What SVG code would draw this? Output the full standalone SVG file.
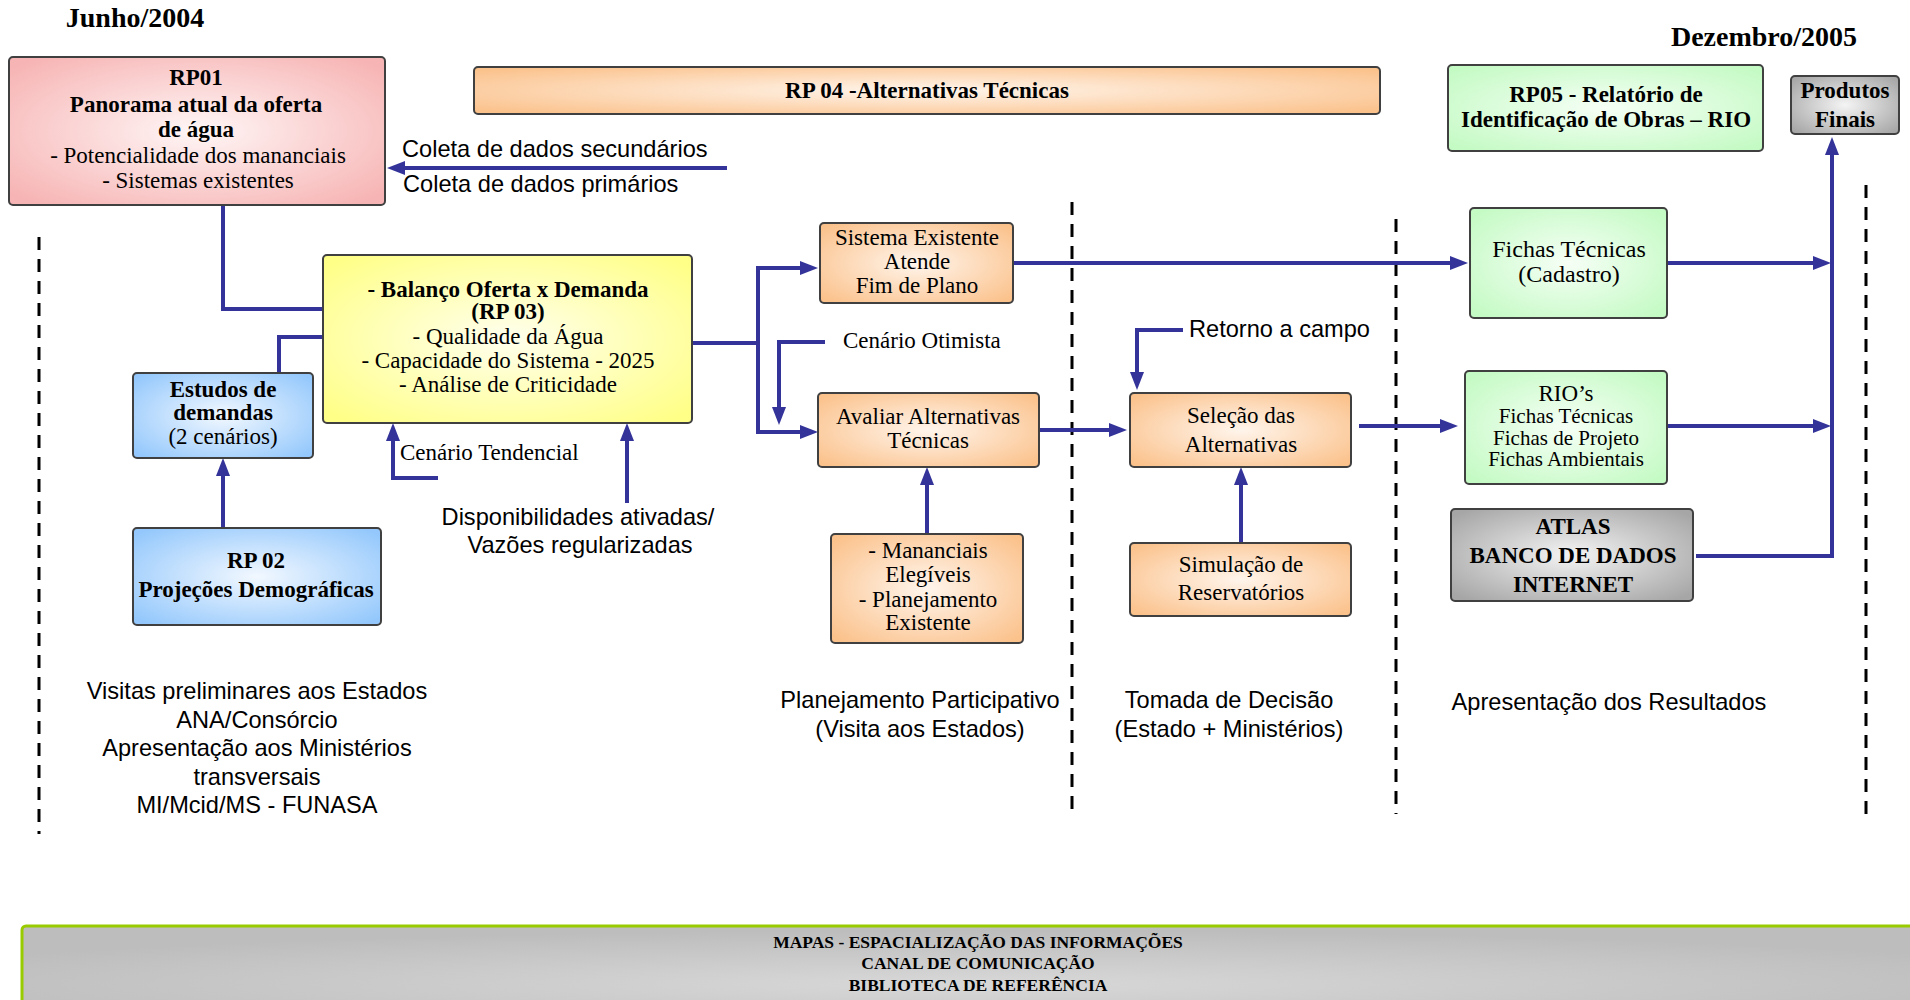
<svg xmlns="http://www.w3.org/2000/svg" width="1910" height="1000" viewBox="0 0 1910 1000">
<defs>
<style>
.box{stroke:#404040;stroke-width:2}
.conn{fill:none;stroke:#333399;stroke-width:4}
.arr{marker-end:url(#ah)}
.dash{stroke:#000;stroke-width:3;stroke-dasharray:13 9}
.s{font-family:"Liberation Serif","Times New Roman",serif;font-size:23px;fill:#000;text-anchor:middle}
.b{font-weight:bold}
.sans{font-family:"Liberation Sans",Arial,sans-serif;font-size:23.6px;fill:#000}
.mid{text-anchor:middle}
</style>
<radialGradient id="gPink" cx="50%" cy="50%" r="65%"><stop offset="0" stop-color="#fff6f6"/><stop offset="1" stop-color="#f7b4b4"/></radialGradient>
<radialGradient id="gOrange" cx="50%" cy="50%" r="65%"><stop offset="0" stop-color="#fff5ec"/><stop offset="1" stop-color="#fbc28c"/></radialGradient>
<radialGradient id="gYellow" cx="50%" cy="50%" r="65%"><stop offset="0" stop-color="#ffffee"/><stop offset="1" stop-color="#ffff88"/></radialGradient>
<radialGradient id="gBlue" cx="50%" cy="50%" r="65%"><stop offset="0" stop-color="#f2f8ff"/><stop offset="1" stop-color="#94c8fc"/></radialGradient>
<radialGradient id="gGreen" cx="50%" cy="50%" r="65%"><stop offset="0" stop-color="#f6fff6"/><stop offset="1" stop-color="#c4fac4"/></radialGradient>
<radialGradient id="gGray" cx="50%" cy="50%" r="65%"><stop offset="0" stop-color="#f4f4f4"/><stop offset="1" stop-color="#a6a6a6"/></radialGradient>
<radialGradient id="gBar" cx="50%" cy="65%" r="60%"><stop offset="0" stop-color="#d8d8d8"/><stop offset="1" stop-color="#bdbdbd"/></radialGradient>
<marker id="ah" markerUnits="userSpaceOnUse" markerWidth="18" markerHeight="14" refX="8" refY="7" orient="auto"><path d="M0,0 L18,7 L0,14 z" fill="#333399"/></marker>
</defs>

<g id="dates">
<text class="s b" x="135" y="27" style="font-size:28px">Junho/2004</text>
<text class="s b" x="1764" y="46" style="font-size:28px">Dezembro/2005</text>
</g>

<g id="phase-lines">
<line class="dash" x1="39" y1="237" x2="39" y2="834"/>
<line class="dash" x1="1072" y1="202" x2="1072" y2="814"/>
<line class="dash" x1="1396" y1="219" x2="1396" y2="814"/>
<line class="dash" x1="1866" y1="185" x2="1866" y2="814"/>
</g>

<g id="connectors">
<path class="conn arr" d="M727,168 H397"/>
<path class="conn" d="M223,205 V309 H323"/>
<path class="conn" d="M279,373 V337 H323"/>
<path class="conn arr" d="M223,527 V468"/>
<path class="conn arr" d="M438,478 H393 V433"/>
<path class="conn arr" d="M627,503 V433"/>
<path class="conn" d="M692,343 H758"/>
<path class="conn arr" d="M758,343 V268 H808"/>
<path class="conn arr" d="M758,343 V432 H808"/>
<path class="conn arr" d="M825,342 H779 V415"/>
<path class="conn arr" d="M1013,263 H1458"/>
<path class="conn arr" d="M1039,430 H1117"/>
<path class="conn arr" d="M927,534 V477"/>
<path class="conn arr" d="M1183,330 H1137 V380"/>
<path class="conn arr" d="M1241,543 V477"/>
<path class="conn arr" d="M1359,426 H1448"/>
<path class="conn arr" d="M1668,263 H1821"/>
<path class="conn arr" d="M1668,426 H1821"/>
<path class="conn arr" d="M1696,556 H1832 V147"/>
</g>

<g id="rp01">
<rect class="box" x="9" y="57" width="376" height="148" rx="4" fill="url(#gPink)"/>
<text class="s b" x="196" y="85">RP01</text>
<text class="s b" x="196" y="112">Panorama atual da oferta</text>
<text class="s b" x="196" y="137">de água</text>
<text class="s" x="198" y="163">- Potencialidade dos mananciais</text>
<text class="s" x="198" y="188">- Sistemas existentes</text>
</g>

<g id="rp04">
<rect class="box" x="474" y="67" width="906" height="47" rx="4" fill="url(#gOrange)"/>
<text class="s b" x="927" y="98">RP 04 -Alternativas Técnicas</text>
</g>

<g id="rp05">
<rect class="box" x="1448" y="65" width="315" height="86" rx="4" fill="url(#gGreen)"/>
<text class="s b" x="1606" y="102">RP05 - Relatório de</text>
<text class="s b" x="1606" y="127">Identificação de Obras – RIO</text>
</g>

<g id="produtos">
<rect class="box" x="1791" y="76" width="108" height="58" rx="4" fill="url(#gGray)"/>
<text class="s b" x="1845" y="98">Produtos</text>
<text class="s b" x="1845" y="127">Finais</text>
</g>

<g id="rp03">
<rect class="box" x="323" y="255" width="369" height="168" rx="4" fill="url(#gYellow)"/>
<text class="s b" x="508" y="297">- Balanço Oferta x Demanda</text>
<text class="s b" x="508" y="319">(RP 03)</text>
<text class="s" x="508" y="344">- Qualidade da Água</text>
<text class="s" x="508" y="368">- Capacidade do Sistema - 2025</text>
<text class="s" x="508" y="392">- Análise de Criticidade</text>
</g>

<g id="estudos">
<rect class="box" x="133" y="373" width="180" height="85" rx="4" fill="url(#gBlue)"/>
<text class="s b" x="223" y="397">Estudos de</text>
<text class="s b" x="223" y="420">demandas</text>
<text class="s" x="223" y="444">(2 cenários)</text>
</g>

<g id="rp02">
<rect class="box" x="133" y="528" width="248" height="97" rx="4" fill="url(#gBlue)"/>
<text class="s b" x="256" y="568">RP 02</text>
<text class="s b" x="256" y="597">Projeções Demográficas</text>
</g>

<g id="sistema">
<rect class="box" x="820" y="223" width="193" height="80" rx="4" fill="url(#gOrange)"/>
<text class="s" x="917" y="245">Sistema Existente</text>
<text class="s" x="917" y="269">Atende</text>
<text class="s" x="917" y="293">Fim de Plano</text>
</g>

<g id="avaliar">
<rect class="box" x="818" y="393" width="221" height="74" rx="4" fill="url(#gOrange)"/>
<text class="s" x="928" y="424">Avaliar Alternativas</text>
<text class="s" x="928" y="448">Técnicas</text>
</g>

<g id="mananciais">
<rect class="box" x="831" y="534" width="192" height="109" rx="4" fill="url(#gOrange)"/>
<text class="s" x="928" y="558">- Mananciais</text>
<text class="s" x="928" y="582">Elegíveis</text>
<text class="s" x="928" y="607">- Planejamento</text>
<text class="s" x="928" y="630">Existente</text>
</g>

<g id="selecao">
<rect class="box" x="1130" y="393" width="221" height="74" rx="4" fill="url(#gOrange)"/>
<text class="s" x="1241" y="423">Seleção das</text>
<text class="s" x="1241" y="452">Alternativas</text>
</g>

<g id="simulacao">
<rect class="box" x="1130" y="543" width="221" height="73" rx="4" fill="url(#gOrange)"/>
<text class="s" x="1241" y="572">Simulação de</text>
<text class="s" x="1241" y="600">Reservatórios</text>
</g>

<g id="fichas">
<rect class="box" x="1470" y="208" width="197" height="110" rx="4" fill="url(#gGreen)"/>
<text class="s" x="1569" y="257" style="font-size:24px">Fichas Técnicas</text>
<text class="s" x="1569" y="282" style="font-size:24px">(Cadastro)</text>
</g>

<g id="rios">
<rect class="box" x="1465" y="371" width="202" height="113" rx="4" fill="url(#gGreen)"/>
<text class="s" x="1566" y="401">RIO’s</text>
<text class="s" x="1566" y="423" style="font-size:21px">Fichas Técnicas</text>
<text class="s" x="1566" y="445" style="font-size:21px">Fichas de Projeto</text>
<text class="s" x="1566" y="466" style="font-size:21px">Fichas Ambientais</text>
</g>

<g id="atlas">
<rect class="box" x="1451" y="509" width="242" height="92" rx="4" fill="url(#gGray)"/>
<text class="s b" x="1573" y="534">ATLAS</text>
<text class="s b" x="1573" y="563">BANCO DE DADOS</text>
<text class="s b" x="1573" y="592">INTERNET</text>
</g>

<g id="labels">
<text class="sans" x="402" y="157">Coleta de dados secundários</text>
<text class="sans" x="403" y="192">Coleta de dados primários</text>
<text class="s" x="400" y="460" style="text-anchor:start">Cenário Tendencial</text>
<text class="sans mid" x="578" y="525">Disponibilidades ativadas/</text>
<text class="sans mid" x="580" y="553">Vazões regularizadas</text>
<text class="s" x="843" y="348" style="text-anchor:start">Cenário Otimista</text>
<text class="sans" x="1189" y="337">Retorno a campo</text>
</g>

<g id="phases">
<text class="sans mid" x="257" y="699">Visitas preliminares aos Estados</text>
<text class="sans mid" x="257" y="728">ANA/Consórcio</text>
<text class="sans mid" x="257" y="756">Apresentação aos Ministérios</text>
<text class="sans mid" x="257" y="785">transversais</text>
<text class="sans mid" x="257" y="813">MI/Mcid/MS - FUNASA</text>
<text class="sans mid" x="920" y="708">Planejamento Participativo</text>
<text class="sans mid" x="920" y="737">(Visita aos Estados)</text>
<text class="sans mid" x="1229" y="708">Tomada de Decisão</text>
<text class="sans mid" x="1229" y="737">(Estado + Ministérios)</text>
<text class="sans mid" x="1609" y="710">Apresentação dos Resultados</text>
</g>

<g id="bottom-bar">
<rect x="22" y="926" width="1900" height="90" rx="4" fill="url(#gBar)" stroke="#99cc00" stroke-width="3"/>
<text class="s b" x="978" y="948" style="font-size:17.5px">MAPAS - ESPACIALIZAÇÃO DAS INFORMAÇÕES</text>
<text class="s b" x="978" y="969" style="font-size:17.5px">CANAL DE COMUNICAÇÃO</text>
<text class="s b" x="978" y="991" style="font-size:17.5px">BIBLIOTECA DE REFERÊNCIA</text>
</g>
</svg>
